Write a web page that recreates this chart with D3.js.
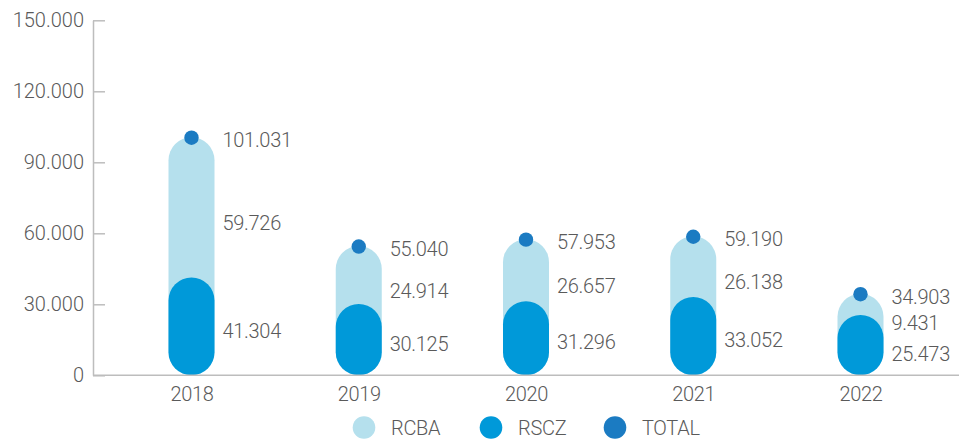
<!DOCTYPE html>
<html>
<head>
<meta charset="utf-8">
<script src="https://cdn.jsdelivr.net/npm/d3@7"></script>
<style>
  html, body { margin: 0; padding: 0; background: #fff; }
  svg text { font-family: Roboto, "Open Sans", sans-serif; font-weight: 300; fill: #5a5a5a; }
</style>
</head>
<body>
<svg id="chart" width="960" height="439"></svg>
<script>
const years = ["2018", "2019", "2020", "2021", "2022"];
const rcba = [59726, 24914, 26657, 26138, 9431];
const rscz = [41304, 30125, 31296, 33052, 25473];
const total = [101031, 55040, 57953, 59190, 34903];
const yTicks = [0, 30000, 60000, 90000, 120000, 150000];
const seriesNames = ["RCBA", "RSCZ", "TOTAL"];
const seriesColors = ["#b5e0ed", "#0099d9", "#1b7bc2"];

const loc = d3.formatLocale({ decimal: ",", thousands: ".", grouping: [3], currency: ["", ""] });
const fmt = loc.format(",d");

const svg = d3.select("#chart");
const y = d3.scaleLinear().domain([0, 150000]).range([375.3, 20.3]);
const x = d3.scalePoint().domain(years).range([191.5, 860.5]);
const barW = 46;
const fontSize = 20;

// y axis
const yAxis = d3.axisLeft(y).tickValues(yTicks).tickSizeInner(-12).tickSizeOuter(0).tickPadding(9)
  .tickFormat(d => d === 0 ? "0" : fmt(d));
const gy = svg.append("g").attr("transform", "translate(93,0)").call(yAxis);
gy.select(".domain").attr("stroke", "#bdbdbd").attr("stroke-width", 1.5);
gy.selectAll(".tick line").attr("stroke", "#bdbdbd").attr("stroke-width", 1.5);
gy.selectAll(".tick text").style("font-size", fontSize + "px").style("letter-spacing", "0px")
  .attr("fill", null);

const data = years.map((yr, i) => ({ yr, rcba: rcba[i], rscz: rscz[i], total: total[i] }));

// bars
const g = svg.append("g");
g.selectAll("rect.light").data(data).join("rect").attr("class", "light")
  .attr("x", d => x(d.yr) - barW / 2).attr("width", barW)
  .attr("y", d => y(d.total) + 1).attr("height", d => y(0) - y(d.total) - 1)
  .attr("rx", barW / 2).attr("ry", barW / 2).attr("fill", seriesColors[0]);
g.selectAll("rect.dark").data(data).join("rect").attr("class", "dark")
  .attr("x", d => x(d.yr) - barW / 2).attr("width", barW)
  .attr("y", d => y(d.rscz)).attr("height", d => y(0) - y(d.rscz))
  .attr("rx", barW / 2).attr("ry", barW / 2).attr("fill", seriesColors[1]);
g.selectAll("circle.tot").data(data).join("circle").attr("class", "tot")
  .attr("cx", d => x(d.yr)).attr("cy", d => y(d.total) + 1.5).attr("r", 7.2)
  .attr("fill", seriesColors[2]);

// x axis
const xAxis = d3.axisBottom(x).tickSize(0).tickPadding(12);
const gx = svg.append("g").attr("transform", `translate(0,${y(0)})`).call(xAxis);
gx.select(".domain").remove();
svg.append("line").attr("x1", 93).attr("x2", 959).attr("y1", y(0)).attr("y2", y(0))
  .attr("stroke", "#bdbdbd").attr("stroke-width", 1.5);
gx.selectAll(".tick text").style("font-size", fontSize + "px").style("letter-spacing", "-0.4px")
  .attr("fill", null);

// value labels
const labels = [];
data.forEach(d => {
  const cx = x(d.yr) + 31;
  let yt = y(d.total) + 4;
  let ya = (y(d.total) + y(d.rscz)) / 2 + 16;
  let yb = (y(d.rscz) + y(0)) / 2 + 4;
  const gap = 26;
  if (ya - yt < gap) ya = yt + gap;
  if (yb - ya < gap + 4) yb = ya + gap + 5;
  labels.push({ x: cx, y: yt, v: d.total });
  labels.push({ x: cx, y: ya, v: d.rcba });
  labels.push({ x: cx, y: yb, v: d.rscz });
});
svg.append("g").selectAll("text").data(labels).join("text")
  .attr("x", d => d.x).attr("y", d => d.y).attr("dy", "0.36em")
  .style("font-size", fontSize + "px").style("letter-spacing", "-0.3px")
  .text(d => fmt(d.v));

// legend
const legX = [364, 491, 615];
const lg = svg.append("g");
seriesNames.forEach((n, i) => {
  lg.append("circle").attr("cx", legX[i]).attr("cy", 427.5).attr("r", 11.3).attr("fill", seriesColors[i]);
  lg.append("text").attr("x", legX[i] + 27).attr("y", 427.5).attr("dy", "0.36em")
    .style("font-size", fontSize + "px").style("letter-spacing", "-0.3px").text(n);
});
</script>
</body>
</html>
